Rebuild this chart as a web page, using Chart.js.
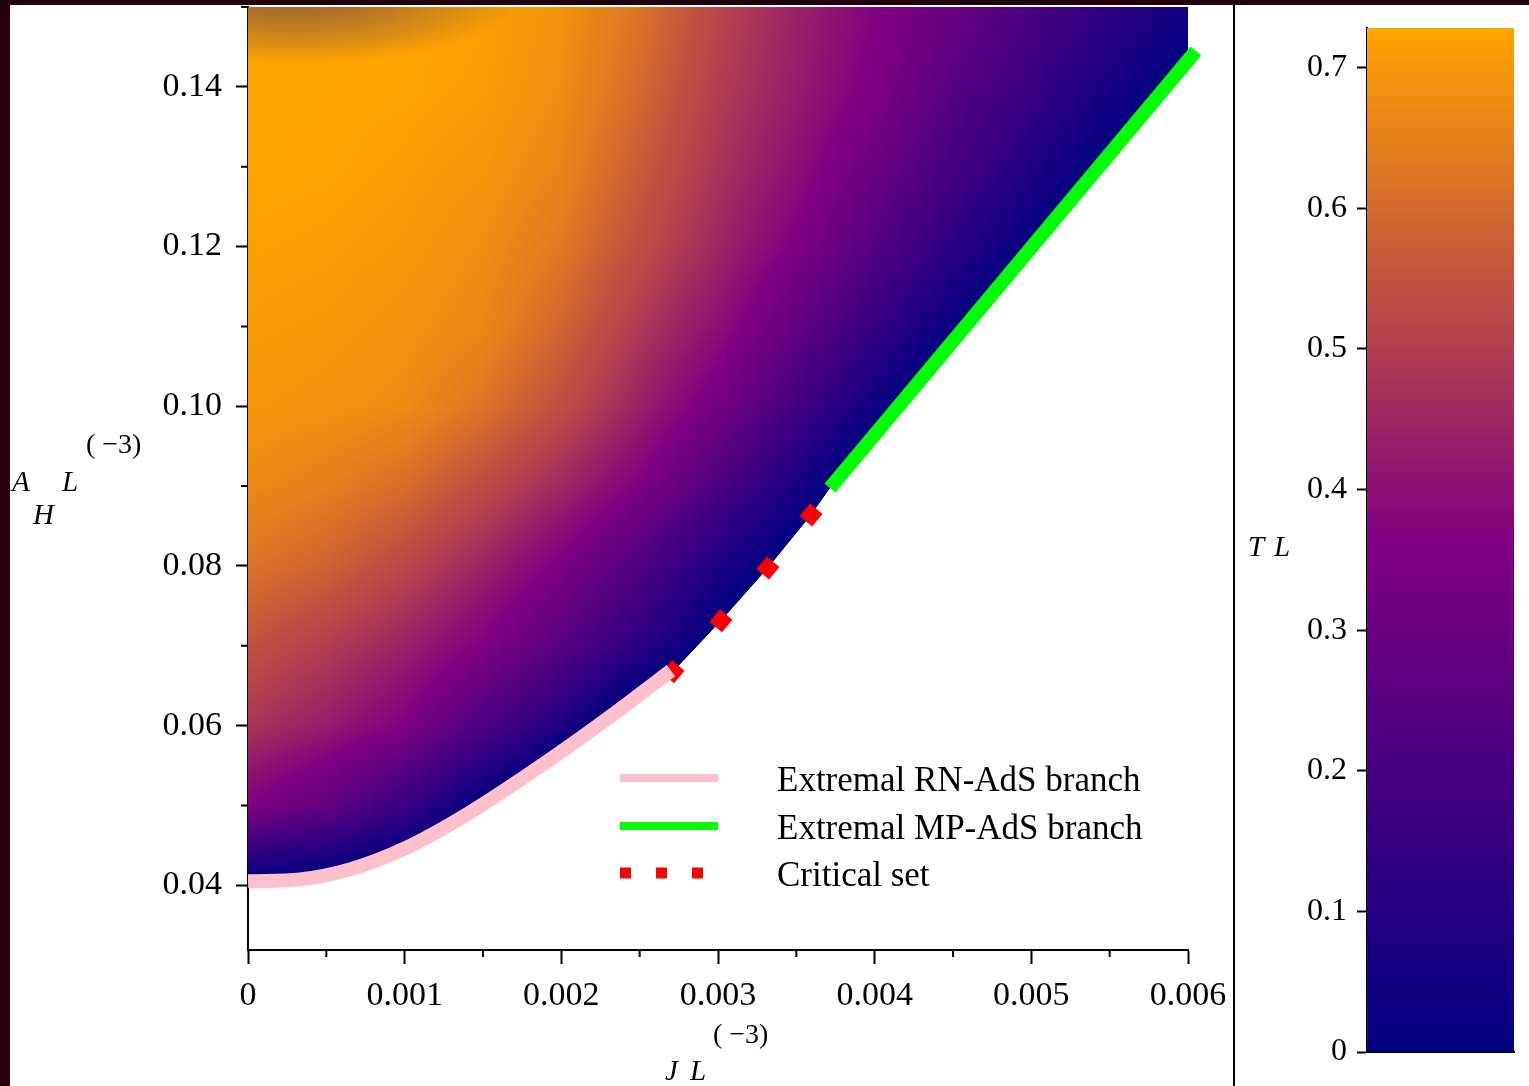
<!DOCTYPE html>
<html>
<head>
<meta charset="utf-8">
<title>Temperature over (J, A_H)</title>
<script src="https://cdn.jsdelivr.net/npm/chart.js@4.4.1/dist/chart.umd.min.js"></script>
<style>
  html, body { margin: 0; padding: 0; }
  body { width: 1529px; height: 1086px; background: #22000e; position: relative; overflow: hidden; }
  #sheet { position: absolute; left: 10px; top: 5px; right: 0; bottom: 0; background: #fff; }
  #main { position: absolute; left: 0; top: 0; }
  #sep { position: absolute; left: 1233px; top: 5px; width: 2px; bottom: 0; background: #000; }
  #bar { position: absolute; left: 1234px; top: 0; }
</style>
</head>
<body>
<div id="sheet"></div>
<canvas id="main" width="1234" height="1086"></canvas>
<div id="sep"></div>
<canvas id="bar" width="295" height="1086"></canvas>
<script>
// axes
const jMin = 0, jMax = 0.006;
const aMin = 0.0319, aMax = 0.15;
const xMajor = [0, 0.001, 0.002, 0.003, 0.004, 0.005, 0.006];
const xLabels = ['0', '0.001', '0.002', '0.003', '0.004', '0.005', '0.006'];
const xMinor = [0.0005, 0.0015, 0.0025, 0.0035, 0.0045, 0.0055];
const yMajor = [0.04, 0.06, 0.08, 0.10, 0.12, 0.14];
const yLabels = ['0.04', '0.06', '0.08', '0.10', '0.12', '0.14'];
const yMinor = [0.05, 0.07, 0.09, 0.11, 0.13, 0.15];

// extremal RN-AdS branch
const rnJ = [0, 0.000332, 0.000651, 0.001002, 0.001417, 0.001928, 0.002355, 0.0027];
const rnA = [0.0405, 0.04075, 0.042, 0.04463, 0.04913, 0.05575, 0.06175, 0.06688];
// critical set
const critJ = [0.002713, 0.003019, 0.003319, 0.003594];
const critA = [0.06675, 0.07313, 0.07975, 0.08638];
// extremal MP-AdS branch
const mpJ = [0.003715, 0.00605];
const mpA = [0.08975, 0.1445];

// T L sampled on a (J, A_H) grid, rows from top (A = 0.15) to bottom (A = 0.03)
const gridJ = [0, 0.0005, 0.001, 0.0015, 0.002, 0.0025, 0.003, 0.0035, 0.004, 0.0045, 0.005, 0.0055, 0.006];
const gridA = [0.15, 0.14, 0.13, 0.12, 0.11, 0.10, 0.09, 0.08, 0.07, 0.06, 0.05, 0.04, 0.03];
const tempByRow = [
  [0.728, 0.728, 0.725, 0.72, 0.69, 0.62, 0.52, 0.44, 0.37, 0.29, 0.21, 0.13, 0.05],
  [0.728, 0.728, 0.725, 0.715, 0.68, 0.60, 0.50, 0.43, 0.35, 0.25, 0.16, 0.066, -0.03],
  [0.728, 0.725, 0.715, 0.70, 0.66, 0.57, 0.48, 0.40, 0.30, 0.20, 0.09, -0.015, -0.12],
  [0.72, 0.715, 0.705, 0.68, 0.63, 0.54, 0.45, 0.355, 0.24, 0.12, 0.0, -0.12, -0.24],
  [0.71, 0.705, 0.69, 0.665, 0.59, 0.49, 0.40, 0.28, 0.15, 0.02, -0.11, -0.24, -0.36],
  [0.70, 0.69, 0.675, 0.62, 0.54, 0.44, 0.33, 0.19, 0.04, -0.10, -0.24, -0.38, -0.5],
  [0.67, 0.645, 0.605, 0.535, 0.455, 0.36, 0.22, 0.07, -0.09, -0.25, -0.4, -0.5, -0.6],
  [0.62, 0.585, 0.525, 0.445, 0.35, 0.225, 0.08, -0.05, -0.2, -0.35, -0.5, -0.6, -0.7],
  [0.55, 0.50, 0.44, 0.36, 0.25, 0.12, -0.02, -0.15, -0.3, -0.45, -0.6, -0.7, -0.8],
  [0.48, 0.43, 0.36, 0.22, 0.09, -0.10, -0.2, -0.3, -0.45, -0.6, -0.7, -0.8, -0.9],
  [0.36, 0.28, 0.16, 0.0, -0.12, -0.24, -0.35, -0.5, -0.6, -0.7, -0.8, -0.9, -1],
  [-0.02, -0.05, -0.09, -0.13, -0.2, -0.3, -0.4, -0.5, -0.6, -0.7, -0.8, -0.9, -1],
  [-0.2, -0.2, -0.2, -0.2, -0.3, -0.4, -0.5, -0.6, -0.7, -0.8, -0.9, -1, -1]
];

// colour scale
const tMax = 0.7283;
const cbStops = [0, 0.36415, 0.7283];
const cbColors = [[0, 0, 128], [128, 0, 128], [255, 165, 0]];
const cbTicks = [0, 0.1, 0.2, 0.3, 0.4, 0.5, 0.6, 0.7];
const cbLabels = ['0', '0.1', '0.2', '0.3', '0.4', '0.5', '0.6', '0.7'];

const serif = "'Liberation Serif', 'Times New Roman', serif";

// lower edge of the existence region: both branches joined through the critical set
const edgeJ = [...rnJ, ...critJ, ...mpJ];
const edgeA = [...rnA, ...critA, ...mpA];

function fracIndex(arr, v) {
  const n = arr.length;
  const asc = arr[n - 1] > arr[0];
  for (let i = 0; i < n - 1; i++) {
    const a = arr[i], b = arr[i + 1];
    if ((asc && v <= b) || (!asc && v >= b)) return i + (v - a) / (b - a);
  }
  return n - 2 + (v - arr[n - 2]) / (arr[n - 1] - arr[n - 2]);
}

function edgeAt(J) {
  const f = fracIndex(edgeJ, J);
  const i = Math.max(0, Math.min(edgeJ.length - 2, Math.floor(f)));
  const t = f - i;
  return edgeA[i] + (edgeA[i + 1] - edgeA[i]) * t;
}

function tempColor(t) {
  t = Math.max(0, Math.min(tMax, t));
  let i = t <= cbStops[1] ? 0 : 1;
  const f = (t - cbStops[i]) / (cbStops[i + 1] - cbStops[i]);
  const a = cbColors[i], b = cbColors[i + 1];
  return [a[0] + (b[0] - a[0]) * f, a[1] + (b[1] - a[1]) * f, a[2] + (b[2] - a[2]) * f];
}

const toPoints = (xs, ys) => xs.map((v, i) => ({ x: v, y: ys[i] }));

const heatmap = {
  id: 'heatmap',
  beforeDatasetsDraw(chart) {
    const { ctx, chartArea: ca, scales: { x, y } } = chart;
    const w = Math.round(ca.right - ca.left), h = Math.round(ca.bottom - ca.top);
    const off = document.createElement('canvas');
    off.width = w; off.height = h;
    const octx = off.getContext('2d');
    const img = octx.createImageData(w, h);
    const nc = gridJ.length, nr = gridA.length;

    // fractional grid row of every pixel row
    const rowF = new Float32Array(h);
    for (let k = 0; k < h; k++) {
      const A = y.getValueForPixel(ca.top + k + 0.5);
      rowF[k] = Math.max(0, Math.min(nr - 1.0001, fracIndex(gridA, A)));
    }
    for (let i = 0; i < w; i++) {
      const J = x.getValueForPixel(ca.left + i + 0.5);
      const yb = y.getPixelForValue(edgeAt(J));
      const cf = Math.max(0, Math.min(nc - 1.0001, fracIndex(gridJ, J)));
      const c0 = Math.floor(cf), tx = cf - c0;
      for (let k = 0; k < h; k++) {
        const cover = Math.min(1, Math.max(0, yb - (ca.top + k + 0.5) + 0.5));
        if (cover <= 0) continue;
        const r0 = Math.floor(rowF[k]), ty = rowF[k] - r0;
        const top = tempByRow[r0][c0] * (1 - tx) + tempByRow[r0][c0 + 1] * tx;
        const bot = tempByRow[r0 + 1][c0] * (1 - tx) + tempByRow[r0 + 1][c0 + 1] * tx;
        const col = tempColor(top * (1 - ty) + bot * ty);
        const p = (k * w + i) * 4;
        img.data[p] = col[0];
        img.data[p + 1] = col[1];
        img.data[p + 2] = col[2];
        img.data[p + 3] = 255 * cover;
      }
    }
    octx.putImageData(img, 0, 0);
    ctx.drawImage(off, ca.left, ca.top);

    // dark smudge in the upper left corner of the plot
    ctx.save();
    ctx.beginPath();
    ctx.rect(ca.left, ca.top, w, h);
    ctx.clip();
    ctx.translate(x.getPixelForValue(0.0003), y.getPixelForValue(0.1515));
    ctx.scale(1, 0.3);
    const g = ctx.createRadialGradient(0, 0, 0, 0, 0, 230);
    g.addColorStop(0, 'rgba(0,0,128,0.42)');
    g.addColorStop(0.55, 'rgba(0,0,128,0.22)');
    g.addColorStop(1, 'rgba(0,0,128,0)');
    ctx.fillStyle = g;
    ctx.beginPath();
    ctx.arc(0, 0, 230, 0, Math.PI * 2);
    ctx.fill();
    ctx.restore();
  }
};

// minor ticks, legend and the axis captions
const decorations = {
  id: 'decorations',
  afterDraw(chart) {
    const { ctx, chartArea: ca, scales: { x, y } } = chart;
    ctx.save();
    ctx.strokeStyle = '#000';
    ctx.lineWidth = 2;
    ctx.beginPath();
    xMinor.forEach(v => {
      const px = x.getPixelForValue(v);
      ctx.moveTo(px, ca.bottom);
      ctx.lineTo(px, ca.bottom + 7);
    });
    yMinor.forEach(v => {
      const py = y.getPixelForValue(v);
      ctx.moveTo(ca.left, py);
      ctx.lineTo(ca.left - 7, py);
    });
    ctx.stroke();

    // legend
    ctx.lineCap = 'butt';
    ctx.lineWidth = 8;
    ctx.strokeStyle = '#ffc0cb';
    ctx.beginPath(); ctx.moveTo(620, 778); ctx.lineTo(718, 778); ctx.stroke();
    ctx.strokeStyle = '#00ff00';
    ctx.beginPath(); ctx.moveTo(620, 826); ctx.lineTo(718, 826); ctx.stroke();
    ctx.strokeStyle = '#ff0000';
    ctx.lineWidth = 11;
    ctx.setLineDash([11, 25]);
    ctx.beginPath(); ctx.moveTo(620, 873); ctx.lineTo(718, 873); ctx.stroke();
    ctx.setLineDash([]);

    ctx.fillStyle = '#000';
    ctx.textBaseline = 'alphabetic';
    ctx.textAlign = 'left';
    ctx.font = `35px ${serif}`;
    ctx.fillText('Extremal RN-AdS branch', 777, 791);
    ctx.fillText('Extremal MP-AdS branch', 777, 839);
    ctx.fillText('Critical set', 777, 886);

    // y caption: A_H L^(-3)
    ctx.font = `italic 29px ${serif}`;
    ctx.fillText('A', 12, 491);
    ctx.fillText('L', 62, 491);
    ctx.fillText('H', 33, 524);
    ctx.font = `28px ${serif}`;
    ctx.fillText('( \u22123)', 86, 453);

    // x caption: J L^(-3)
    ctx.fillText('( \u22123)', 713, 1043);
    ctx.font = `italic 29px ${serif}`;
    ctx.fillText('J', 665, 1080);
    ctx.fillText('L', 690, 1080);
    ctx.restore();
  }
};

new Chart(document.getElementById('main'), {
  type: 'scatter',
  data: {
    datasets: [
      {
        label: 'Extremal RN-AdS branch',
        data: toPoints(rnJ, rnA),
        showLine: true,
        borderColor: '#ffc0cb',
        borderWidth: 14,
        borderCapStyle: 'butt',
        cubicInterpolationMode: 'monotone',
        pointRadius: 0
      },
      {
        label: 'Extremal MP-AdS branch',
        data: toPoints(mpJ, mpA),
        showLine: true,
        borderColor: '#00ff00',
        borderWidth: 14,
        borderCapStyle: 'butt',
        pointRadius: 0,
        clip: false
      },
      {
        label: 'Critical set',
        data: toPoints(critJ, critA),
        showLine: false,
        pointStyle: 'rect',
        pointRadius: 11.5,
        pointRotation: 40,
        pointBackgroundColor: '#ff0000',
        pointBorderWidth: 0
      }
    ]
  },
  options: {
    responsive: false,
    animation: false,
    events: [],
    layout: { autoPadding: false, padding: { top: 7, right: 46, left: 0, bottom: 0 } },
    plugins: { legend: { display: false }, tooltip: { enabled: false } },
    scales: {
      x: {
        type: 'linear', min: jMin, max: jMax, z: 1,
        afterBuildTicks: s => { s.ticks = xMajor.map(v => ({ value: v })); },
        ticks: {
          callback: (v, i) => xLabels[i],
          font: { family: serif, size: 34 }, color: '#000', padding: 12,
          maxRotation: 0, autoSkip: false
        },
        grid: { drawOnChartArea: false, tickLength: 14, tickWidth: 2, tickColor: '#000' },
        border: { color: '#000', width: 2 },
        afterFit: s => { s.height = 136; s.paddingLeft = 0; s.paddingRight = 0; }
      },
      y: {
        type: 'linear', min: aMin, max: aMax, z: 1,
        afterBuildTicks: s => { s.ticks = yMajor.map(v => ({ value: v })); },
        ticks: {
          callback: (v, i) => yLabels[i],
          font: { family: serif, size: 34 }, color: '#000', padding: 14, autoSkip: false
        },
        grid: { drawOnChartArea: false, tickLength: 12, tickWidth: 2, tickColor: '#000' },
        border: { color: '#000', width: 2 },
        afterFit: s => { s.width = 248; s.paddingTop = 0; s.paddingBottom = 0; }
      }
    }
  },
  plugins: [heatmap, decorations]
});

// colour bar
const barCaption = {
  id: 'barCaption',
  afterDraw(chart) {
    const { ctx } = chart;
    ctx.save();
    ctx.fillStyle = '#000';
    ctx.font = `italic 29px ${serif}`;
    ctx.fillText('T', 14, 556);
    ctx.fillText('L', 40, 556);
    ctx.restore();
  }
};

new Chart(document.getElementById('bar'), {
  type: 'bar',
  data: {
    labels: ['T L'],
    datasets: [{
      data: [tMax],
      borderWidth: 0,
      categoryPercentage: 1,
      barPercentage: 1,
      backgroundColor: c => {
        const ca = c.chart.chartArea;
        if (!ca) return '#000080';
        const g = c.chart.ctx.createLinearGradient(0, c.chart.scales.y.getPixelForValue(0), 0, c.chart.scales.y.getPixelForValue(tMax));
        cbStops.forEach((s, i) => g.addColorStop(s / tMax, `rgb(${cbColors[i].join(',')})`));
        return g;
      }
    }]
  },
  options: {
    responsive: false,
    animation: false,
    events: [],
    layout: { autoPadding: false, padding: { top: 28, right: 15, left: 0, bottom: 0 } },
    plugins: { legend: { display: false }, tooltip: { enabled: false } },
    scales: {
      x: {
        ticks: { display: false },
        grid: { display: false },
        border: { display: true, color: '#000', width: 2 },
        afterFit: s => { s.height = 34; s.paddingLeft = 0; s.paddingRight = 0; }
      },
      y: {
        min: 0, max: tMax,
        afterBuildTicks: s => { s.ticks = cbTicks.map(v => ({ value: v })); },
        ticks: {
          callback: (v, i) => cbLabels[i],
          font: { family: serif, size: 32 }, color: '#000', padding: 10, autoSkip: false
        },
        grid: { drawOnChartArea: false, tickLength: 10, tickWidth: 2, tickColor: '#000' },
        border: { color: '#000', width: 2 },
        afterFit: s => { s.width = 133; s.paddingTop = 0; s.paddingBottom = 0; }
      }
    }
  },
  plugins: [barCaption]
});
</script>
</body>
</html>
